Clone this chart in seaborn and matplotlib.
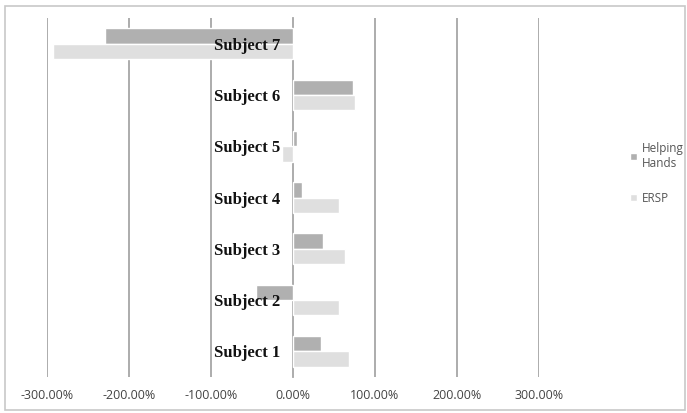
import numpy as np
import pandas as pd
import matplotlib
matplotlib.use("Agg")
import matplotlib.pyplot as plt
from matplotlib.patches import Rectangle
from matplotlib.ticker import FuncFormatter, FixedLocator
import seaborn as sns

subjects = ["Subject 7", "Subject 6", "Subject 5", "Subject 4", "Subject 3", "Subject 2", "Subject 1"]
helping_hands = [-229, 73, 4.5, 10.5, 37, -45.5, 34]
ersp = [-293, 76, -14, 56, 64, 56, 68]
series = ["Helping\nHands", "ERSP"]
x_ticks = [-300, -200, -100, 0, 100, 200, 300]

df = pd.DataFrame({
    "subject": subjects * 2,
    "value": helping_hands + ersp,
    "series": [series[0]] * len(subjects) + [series[1]] * len(subjects),
})

sns.set_style("white")
fig = plt.figure(figsize=(6.87, 4.13), dpi=100)
ax = fig.add_axes([47 / 687, 1 - 377 / 413, 492 / 687, 359 / 413])

sns.barplot(data=df, x="value", y="subject", hue="series", hue_order=series,
            order=subjects, palette=["#b0b0b0", "#dfdfdf"], width=0.6,
            orient="h", ax=ax, saturation=1, legend=True)

ax.set_xlim(-300, 300)
ax.set_ylim(6.5, -0.5)
ax.set_xticks(x_ticks)
ax.xaxis.set_major_formatter(FuncFormatter(lambda v, p: "%.2f%%" % v))
# gridlines drawn under the bars, tick labels stay on top of them
for v in x_ticks:
    if v != 0:
        ax.axvline(v, color="#a6a6a6", linewidth=1.3, zorder=0)
ax.set_axisbelow(False)
ax.set_xlabel("")
ax.set_ylabel("")

for s in ["top", "right", "bottom"]:
    ax.spines[s].set_visible(False)
ax.spines["left"].set_position(("data", 0))
ax.spines["left"].set_color("#a6a6a6")
ax.spines["left"].set_linewidth(1.3)
ax.spines["left"].set_zorder(0.5)

ax.tick_params(axis="x", length=0, pad=8.5, labelsize=9, labelcolor="#444444")
for t in ax.get_xticklabels():
    t.set_family(["Open Sans", "DejaVu Sans"])
ax.tick_params(axis="y", which="major", length=0, pad=9.4)
ax.yaxis.set_minor_locator(FixedLocator(np.arange(-0.5, 7, 1)))
ax.tick_params(axis="y", which="minor", length=3, color="#a6a6a6", width=1)
for t in ax.get_yticklabels():
    t.set_family("Liberation Serif")
    t.set_fontweight("bold")
    t.set_fontsize(12)
    t.set_color("#111111")

leg = ax.legend(loc="upper left", bbox_to_anchor=(624 / 687, 1 - 136 / 413),
                bbox_transform=fig.transFigure, borderpad=0,
                frameon=False, fontsize=8.5, handlelength=0.6, handleheight=0.6,
                labelspacing=1.85, handletextpad=0.4)
for t in leg.get_texts():
    t.set_color("#555555")
    t.set_family(["Open Sans", "DejaVu Sans"])

fig.patches.append(Rectangle((5 / 687, 3 / 413), 680 / 687, 404 / 413, transform=fig.transFigure,
                             fill=False, edgecolor="#c8c8c8", linewidth=1.2))

fig.savefig("out.png", dpi=100)
